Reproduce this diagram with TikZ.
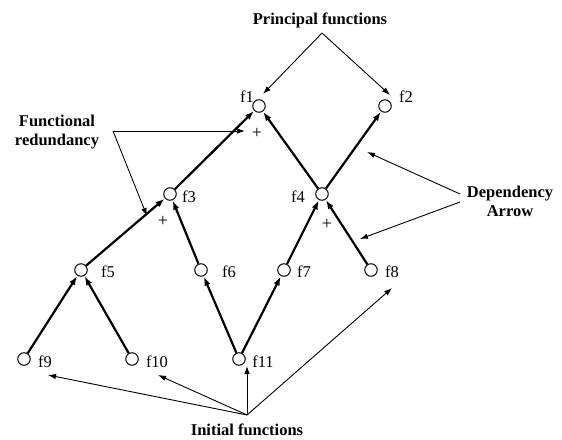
\documentclass[tikz,border=0pt]{standalone}
\usepackage{fontspec}
\setmainfont{Liberation Serif}
\usetikzlibrary{arrows.meta}
\begin{document}
\begin{tikzpicture}[x=1pt,y=-1pt,
  fn/.style={draw,circle,minimum size=12.5pt,inner sep=0pt,line width=1pt,fill=white},
  fnlabel/.style={inner sep=0pt,font=\fontsize{16.5}{19}\selectfont},
  plusmark/.style={inner sep=0pt,font=\fontsize{18}{20}\selectfont},
  note/.style={inner sep=0pt,align=center,font=\fontsize{16.5}{19}\selectfont\bfseries},
  depend/.style={line width=2.2pt,-{Latex[length=9pt,width=6.5pt]},shorten >=0.5pt},
  pointer/.style={line width=0.9pt,-{Latex[length=8pt,width=5.5pt]}}]
\useasboundingbox (0,0) rectangle (562,439);

% function nodes
\node[fn] (f1)  at (259,106) {};
\node[fn] (f2)  at (385,106) {};
\node[fn] (f3)  at (170,194) {};
\node[fn] (f4)  at (322,194) {};
\node[fn] (f5)  at (81,270)  {};
\node[fn] (f6)  at (201,270) {};
\node[fn] (f7)  at (284,270) {};
\node[fn] (f8)  at (371,270) {};
\node[fn] (f9)  at (24,359)  {};
\node[fn] (f10) at (132,359) {};
\node[fn] (f11) at (239,359) {};

% function names
\node[fnlabel] (l1)  at (247,97)  {f1};
\node[fnlabel] (l2)  at (406,97)  {f2};
\node[fnlabel] (l3)  at (189,197) {f3};
\node[fnlabel] (l4)  at (298,197) {f4};
\node[fnlabel] (l5)  at (108,272) {f5};
\node[fnlabel] (l6)  at (229,272) {f6};
\node[fnlabel] (l7)  at (304,272) {f7};
\node[fnlabel] (l8)  at (392,272) {f8};
\node[fnlabel] (l9)  at (45,362)  {f9};
\node[fnlabel] (l10) at (157,362) {f10};
\node[fnlabel] (l11) at (263,362) {f11};

% redundancy marks
\node[plusmark] (p1) at (257,133) {+};
\node[plusmark] (p3) at (163,221) {+};
\node[plusmark] (p4) at (327,224) {+};

% dependency arrows
\draw[depend] (f9)  -- (f5);
\draw[depend] (f10) -- (f5);
\draw[depend] (f5)  -- (f3);
\draw[depend] (f6)  -- (f3);
\draw[depend] (f3)  -- (f1);
\draw[depend] (f4)  -- (f1);
\draw[depend] (f4)  -- (f2);
\draw[depend] (f7)  -- (f4);
\draw[depend] (f8)  -- (f4);
\draw[depend] (f11) -- (f6);
\draw[depend] (f11) -- (f7);

% annotations
\node[note] (principal) at (320,20) {Principal functions};
\coordinate (pa) at (322,33);
\coordinate (pt1) at (263,94);
\coordinate (pt2) at (390,95);
\draw[pointer] (pa) -- (pt1);
\draw[pointer] (pa) -- (pt2);

\node[note] (redund) at (57,132) {Functional\\redundancy};
\coordinate (ra) at (113,131);
\coordinate (rt1) at (245,131);
\coordinate (rt3) at (147,216);
\draw[pointer] (ra) -- (rt1);
\draw[pointer] (ra) -- (rt3);

\node[note] (depnote) at (510,201) {Dependency\\Arrow};
\coordinate (da1) at (460,194);
\coordinate (da2) at (460,202);
\coordinate (dt1) at (367,152);
\coordinate (dt2) at (360,239);
\draw[pointer] (da1) -- (dt1);
\draw[pointer] (da2) -- (dt2);

\node[note] (initial) at (247,430) {Initial functions};
\coordinate (ia) at (247,415);
\coordinate (it9) at (48,375);
\coordinate (it10) at (158,375);
\coordinate (it11) at (247,366);
\coordinate (it8) at (392,288);
\draw[pointer] (ia) -- (it9);
\draw[pointer] (ia) -- (it10);
\draw[pointer] (ia) -- (it11);
\draw[pointer] (ia) -- (it8);
\end{tikzpicture}
\end{document}
